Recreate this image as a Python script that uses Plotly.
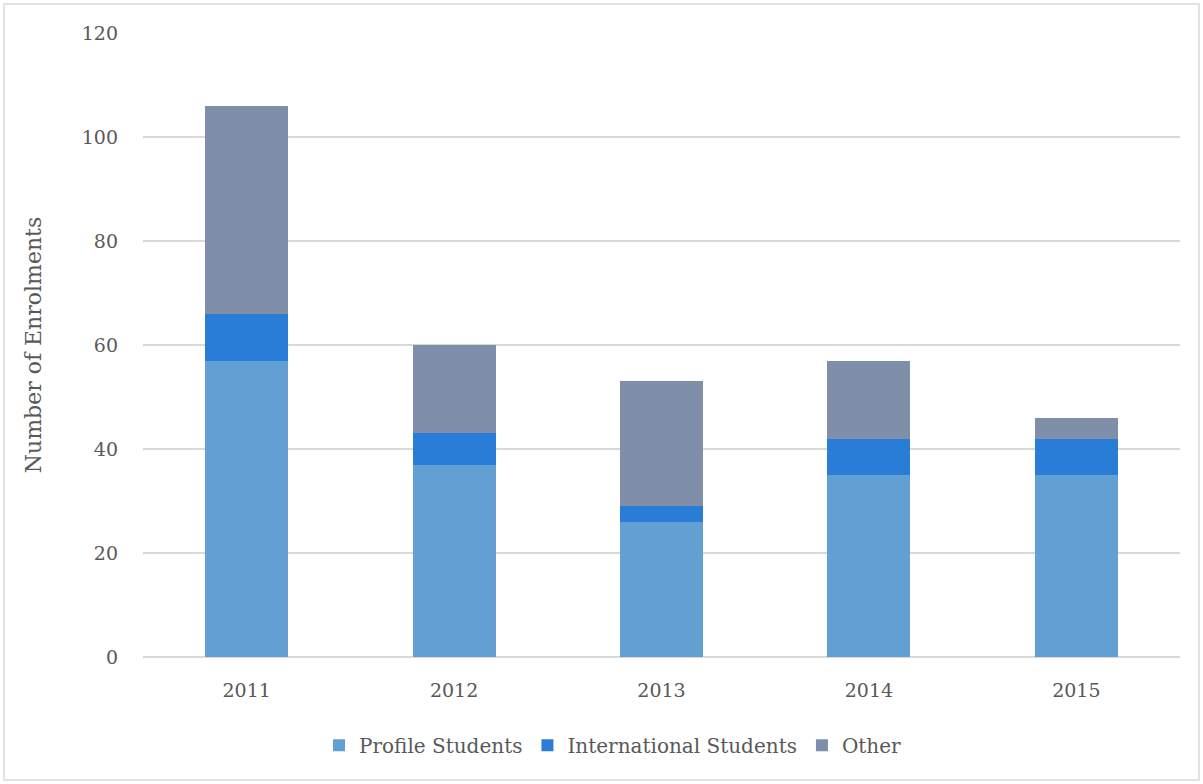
import plotly.graph_objects as go

years = ["2011", "2012", "2013", "2014", "2015"]
profile_students = [57, 37, 26, 35, 35]
international_students = [9, 6, 3, 7, 7]
other = [40, 17, 24, 15, 4]

FONT = "DejaVu Serif"
TEXT_COLOR = "#595959"

fig = go.Figure()
series = [
    ("Profile Students", profile_students, "#629FD2"),
    ("International Students", international_students, "#2A7DD6"),
    ("Other", other, "#7F8FA9"),
]
for name, vals, color in series:
    fig.add_trace(go.Bar(x=years, y=vals, name=name, marker=dict(color=color, line=dict(width=0))))

W, H = 1203, 784
L, R, T, B = 143, 23, 33, 127
pw, ph = W - L - R, H - T - B

def px_x(x):
    return (x - L) / pw

def px_y(y):
    return (H - B - y) / ph

fig.update_layout(
    width=W, height=H,
    margin=dict(l=L, r=R, t=T, b=B),
    barmode="stack",
    bargap=0.6,
    plot_bgcolor="white",
    paper_bgcolor="white",
    font=dict(family=FONT, color=TEXT_COLOR, size=19),
    yaxis=dict(
        range=[0, 120], dtick=20, showgrid=True, gridcolor="#D9D9D9", gridwidth=1.5,
        zeroline=True, zerolinecolor="#D9D9D9", zerolinewidth=1.5,
        tickfont=dict(size=19, color=TEXT_COLOR), ticks="", ticklabelstandoff=24,
        title=dict(text="Number of Enrolments", font=dict(size=22, color=TEXT_COLOR), standoff=34),
    ),
    xaxis=dict(
        showline=False, ticks="", tickfont=dict(size=19, color=TEXT_COLOR),
        ticklabelstandoff=20,
    ),
    legend=dict(
        orientation="h", x=px_x(613), xanchor="center", y=-0.11, yanchor="top",
        font=dict(size=20, color=TEXT_COLOR), traceorder="normal",
        itemwidth=30,
    ),
    shapes=[dict(
        type="rect", xref="paper", yref="paper",
        x0=px_x(4), x1=px_x(1199), y0=px_y(4), y1=px_y(780),
        line=dict(color="#D9D9D9", width=1.5), fillcolor="rgba(0,0,0,0)", layer="below",
    )],
)

fig.write_html("out.html")
